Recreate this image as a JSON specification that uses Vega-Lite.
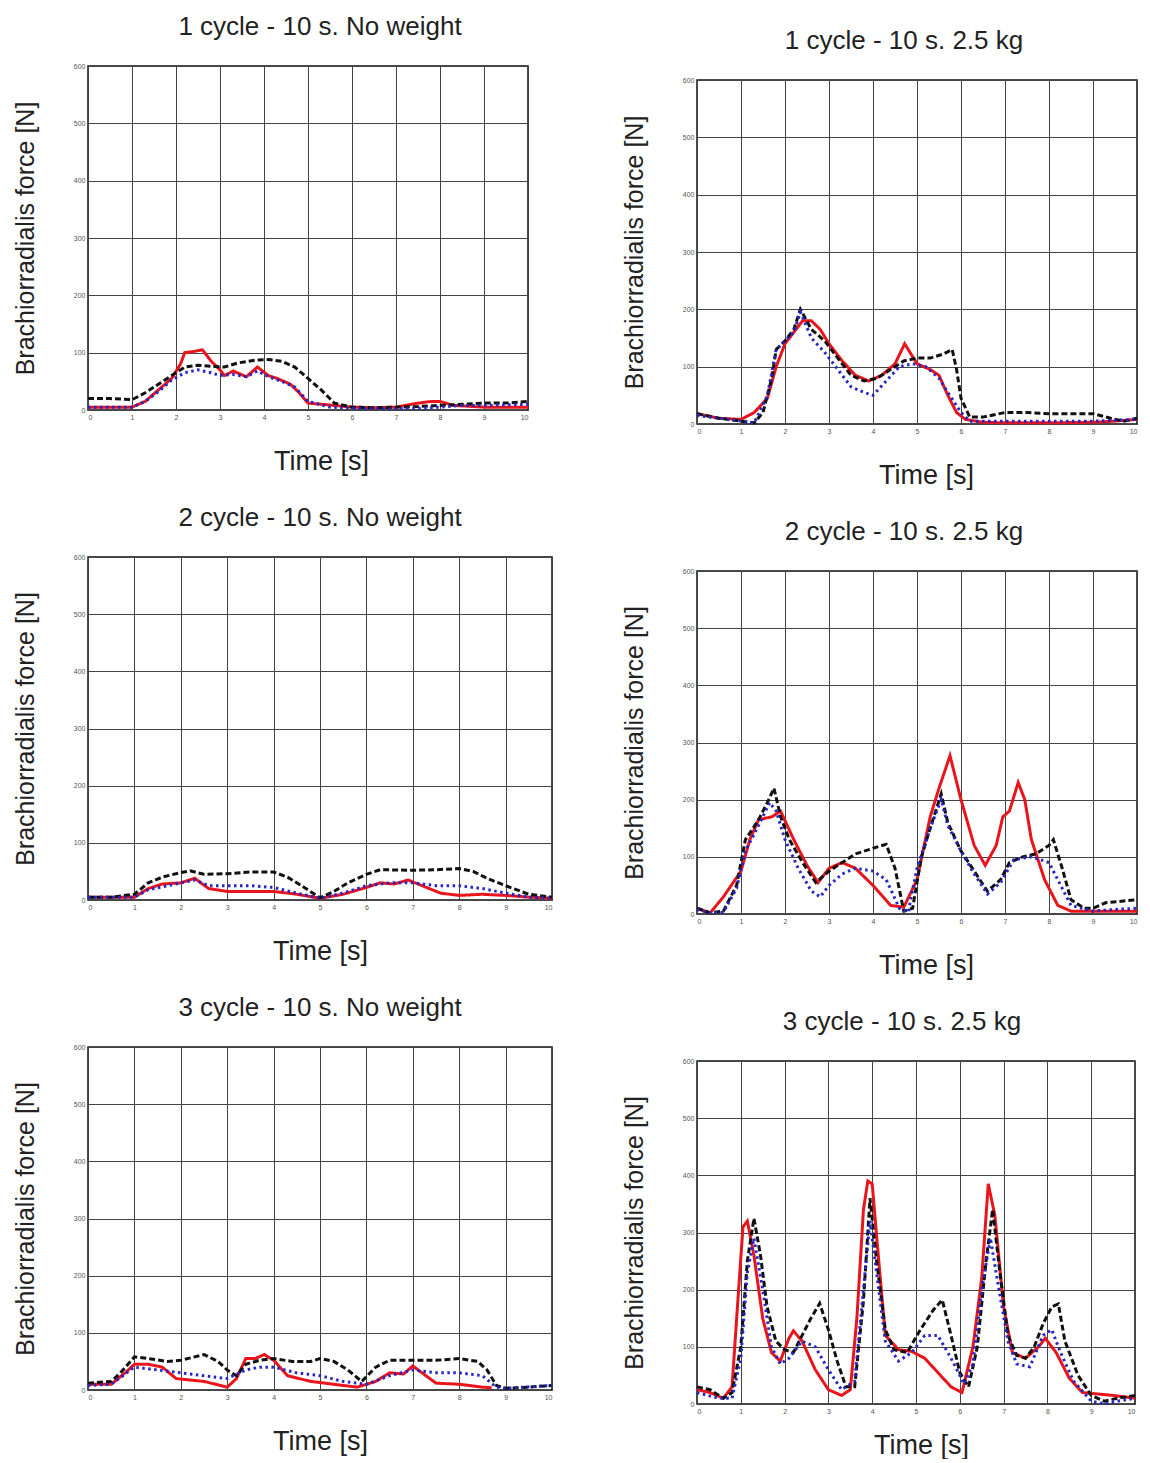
{
"$schema": "https://vega.github.io/schema/vega-lite/v6.json",
"padding": {"left": 12, "top": 13, "right": 5, "bottom": 0},
"background": "white",
"datasets": {
"p1": [
{"s":"Series 1","t":0,"f":5},{"s":"Series 1","t":0.5,"f":5},{"s":"Series 1","t":1,"f":5},{"s":"Series 1","t":1.3,"f":15},{"s":"Series 1","t":1.6,"f":35},{"s":"Series 1","t":1.9,"f":55},{"s":"Series 1","t":2.1,"f":80},{"s":"Series 1","t":2.2,"f":100},{"s":"Series 1","t":2.4,"f":102},{"s":"Series 1","t":2.6,"f":105},{"s":"Series 1","t":2.8,"f":85},{"s":"Series 1","t":3.0,"f":70},{"s":"Series 1","t":3.1,"f":60},{"s":"Series 1","t":3.3,"f":68},{"s":"Series 1","t":3.6,"f":58},{"s":"Series 1","t":3.85,"f":75},{"s":"Series 1","t":4.1,"f":60},{"s":"Series 1","t":4.3,"f":55},{"s":"Series 1","t":4.6,"f":45},{"s":"Series 1","t":4.8,"f":30},{"s":"Series 1","t":5.0,"f":12},{"s":"Series 1","t":5.3,"f":10},{"s":"Series 1","t":5.6,"f":8},{"s":"Series 1","t":6,"f":5},{"s":"Series 1","t":6.5,"f":4},{"s":"Series 1","t":7,"f":5},{"s":"Series 1","t":7.5,"f":12},{"s":"Series 1","t":7.8,"f":15},{"s":"Series 1","t":8.0,"f":15},{"s":"Series 1","t":8.3,"f":8},{"s":"Series 1","t":9,"f":5},{"s":"Series 1","t":10,"f":5},
{"s":"Series 2","t":0,"f":20},{"s":"Series 2","t":0.5,"f":20},{"s":"Series 2","t":1,"f":18},{"s":"Series 2","t":1.3,"f":30},{"s":"Series 2","t":1.6,"f":45},{"s":"Series 2","t":1.9,"f":60},{"s":"Series 2","t":2.2,"f":75},{"s":"Series 2","t":2.5,"f":78},{"s":"Series 2","t":2.8,"f":76},{"s":"Series 2","t":3.1,"f":75},{"s":"Series 2","t":3.4,"f":82},{"s":"Series 2","t":3.8,"f":87},{"s":"Series 2","t":4.1,"f":88},{"s":"Series 2","t":4.4,"f":85},{"s":"Series 2","t":4.7,"f":75},{"s":"Series 2","t":5.0,"f":55},{"s":"Series 2","t":5.3,"f":35},{"s":"Series 2","t":5.6,"f":12},{"s":"Series 2","t":6,"f":5},{"s":"Series 2","t":6.5,"f":4},{"s":"Series 2","t":7,"f":5},{"s":"Series 2","t":7.5,"f":6},{"s":"Series 2","t":8,"f":8},{"s":"Series 2","t":8.5,"f":10},{"s":"Series 2","t":9,"f":12},{"s":"Series 2","t":9.5,"f":12},{"s":"Series 2","t":10,"f":15},
{"s":"Series 3","t":0,"f":5},{"s":"Series 3","t":1,"f":5},{"s":"Series 3","t":1.3,"f":15},{"s":"Series 3","t":1.6,"f":32},{"s":"Series 3","t":1.9,"f":52},{"s":"Series 3","t":2.2,"f":65},{"s":"Series 3","t":2.5,"f":70},{"s":"Series 3","t":2.8,"f":65},{"s":"Series 3","t":3.0,"f":60},{"s":"Series 3","t":3.3,"f":62},{"s":"Series 3","t":3.6,"f":58},{"s":"Series 3","t":3.85,"f":68},{"s":"Series 3","t":4.1,"f":58},{"s":"Series 3","t":4.4,"f":50},{"s":"Series 3","t":4.7,"f":40},{"s":"Series 3","t":5.0,"f":15},{"s":"Series 3","t":5.5,"f":5},{"s":"Series 3","t":6,"f":3},{"s":"Series 3","t":7,"f":2},{"s":"Series 3","t":7.5,"f":3},{"s":"Series 3","t":8,"f":5},{"s":"Series 3","t":8.5,"f":8},{"s":"Series 3","t":9,"f":8},{"s":"Series 3","t":10,"f":10}
],
"p2": [
{"s":"Series 1","t":0,"f":18},{"s":"Series 1","t":0.5,"f":10},{"s":"Series 1","t":1,"f":8},{"s":"Series 1","t":1.3,"f":20},{"s":"Series 1","t":1.6,"f":45},{"s":"Series 1","t":1.8,"f":100},{"s":"Series 1","t":2.0,"f":140},{"s":"Series 1","t":2.2,"f":160},{"s":"Series 1","t":2.4,"f":180},{"s":"Series 1","t":2.6,"f":180},{"s":"Series 1","t":2.8,"f":165},{"s":"Series 1","t":3.0,"f":140},{"s":"Series 1","t":3.3,"f":110},{"s":"Series 1","t":3.6,"f":85},{"s":"Series 1","t":3.9,"f":75},{"s":"Series 1","t":4.2,"f":85},{"s":"Series 1","t":4.5,"f":105},{"s":"Series 1","t":4.72,"f":140},{"s":"Series 1","t":5.0,"f":105},{"s":"Series 1","t":5.3,"f":95},{"s":"Series 1","t":5.5,"f":85},{"s":"Series 1","t":5.7,"f":50},{"s":"Series 1","t":5.9,"f":20},{"s":"Series 1","t":6.1,"f":8},{"s":"Series 1","t":6.5,"f":3},{"s":"Series 1","t":7,"f":2},{"s":"Series 1","t":8,"f":2},{"s":"Series 1","t":9,"f":3},{"s":"Series 1","t":9.5,"f":5},{"s":"Series 1","t":10,"f":8},
{"s":"Series 2","t":0,"f":18},{"s":"Series 2","t":0.5,"f":10},{"s":"Series 2","t":1,"f":5},{"s":"Series 2","t":1.3,"f":2},{"s":"Series 2","t":1.5,"f":20},{"s":"Series 2","t":1.7,"f":80},{"s":"Series 2","t":1.8,"f":130},{"s":"Series 2","t":2.0,"f":145},{"s":"Series 2","t":2.2,"f":165},{"s":"Series 2","t":2.35,"f":200},{"s":"Series 2","t":2.6,"f":165},{"s":"Series 2","t":2.9,"f":145},{"s":"Series 2","t":3.2,"f":115},{"s":"Series 2","t":3.5,"f":85},{"s":"Series 2","t":3.8,"f":75},{"s":"Series 2","t":4.1,"f":80},{"s":"Series 2","t":4.4,"f":95},{"s":"Series 2","t":4.7,"f":110},{"s":"Series 2","t":5.0,"f":115},{"s":"Series 2","t":5.3,"f":115},{"s":"Series 2","t":5.6,"f":122},{"s":"Series 2","t":5.8,"f":130},{"s":"Series 2","t":5.9,"f":95},{"s":"Series 2","t":6.0,"f":45},{"s":"Series 2","t":6.2,"f":12},{"s":"Series 2","t":6.5,"f":12},{"s":"Series 2","t":7,"f":20},{"s":"Series 2","t":7.5,"f":20},{"s":"Series 2","t":8,"f":18},{"s":"Series 2","t":8.5,"f":18},{"s":"Series 2","t":9,"f":18},{"s":"Series 2","t":9.4,"f":10},{"s":"Series 2","t":9.7,"f":5},{"s":"Series 2","t":10,"f":10},
{"s":"Series 3","t":0,"f":15},{"s":"Series 3","t":1,"f":5},{"s":"Series 3","t":1.3,"f":2},{"s":"Series 3","t":1.6,"f":50},{"s":"Series 3","t":1.8,"f":130},{"s":"Series 3","t":2.0,"f":145},{"s":"Series 3","t":2.2,"f":160},{"s":"Series 3","t":2.35,"f":195},{"s":"Series 3","t":2.6,"f":150},{"s":"Series 3","t":2.9,"f":125},{"s":"Series 3","t":3.2,"f":95},{"s":"Series 3","t":3.5,"f":65},{"s":"Series 3","t":3.8,"f":55},{"s":"Series 3","t":4.0,"f":50},{"s":"Series 3","t":4.3,"f":75},{"s":"Series 3","t":4.6,"f":100},{"s":"Series 3","t":4.9,"f":105},{"s":"Series 3","t":5.2,"f":100},{"s":"Series 3","t":5.5,"f":80},{"s":"Series 3","t":5.7,"f":55},{"s":"Series 3","t":6.0,"f":20},{"s":"Series 3","t":6.2,"f":5},{"s":"Series 3","t":7,"f":5},{"s":"Series 3","t":8,"f":5},{"s":"Series 3","t":9,"f":5},{"s":"Series 3","t":10,"f":8}
],
"p3": [
{"s":"Series 1","t":0,"f":5},{"s":"Series 1","t":1,"f":5},{"s":"Series 1","t":1.3,"f":20},{"s":"Series 1","t":1.6,"f":28},{"s":"Series 1","t":2,"f":30},{"s":"Series 1","t":2.3,"f":38},{"s":"Series 1","t":2.6,"f":20},{"s":"Series 1","t":3,"f":15},{"s":"Series 1","t":3.5,"f":15},{"s":"Series 1","t":4,"f":15},{"s":"Series 1","t":4.5,"f":10},{"s":"Series 1","t":5,"f":3},{"s":"Series 1","t":5.5,"f":10},{"s":"Series 1","t":6,"f":22},{"s":"Series 1","t":6.3,"f":30},{"s":"Series 1","t":6.6,"f":28},{"s":"Series 1","t":6.9,"f":35},{"s":"Series 1","t":7.2,"f":25},{"s":"Series 1","t":7.6,"f":12},{"s":"Series 1","t":8,"f":8},{"s":"Series 1","t":8.5,"f":10},{"s":"Series 1","t":9,"f":8},{"s":"Series 1","t":9.5,"f":5},{"s":"Series 1","t":10,"f":3},
{"s":"Series 2","t":0,"f":5},{"s":"Series 2","t":0.5,"f":5},{"s":"Series 2","t":1,"f":10},{"s":"Series 2","t":1.3,"f":30},{"s":"Series 2","t":1.6,"f":40},{"s":"Series 2","t":2,"f":48},{"s":"Series 2","t":2.2,"f":51},{"s":"Series 2","t":2.5,"f":45},{"s":"Series 2","t":3,"f":46},{"s":"Series 2","t":3.5,"f":49},{"s":"Series 2","t":4,"f":49},{"s":"Series 2","t":4.3,"f":40},{"s":"Series 2","t":4.6,"f":25},{"s":"Series 2","t":5,"f":4},{"s":"Series 2","t":5.3,"f":15},{"s":"Series 2","t":5.6,"f":30},{"s":"Series 2","t":6,"f":45},{"s":"Series 2","t":6.3,"f":53},{"s":"Series 2","t":7,"f":52},{"s":"Series 2","t":7.5,"f":53},{"s":"Series 2","t":8,"f":55},{"s":"Series 2","t":8.3,"f":50},{"s":"Series 2","t":8.6,"f":38},{"s":"Series 2","t":9,"f":25},{"s":"Series 2","t":9.5,"f":10},{"s":"Series 2","t":10,"f":5},
{"s":"Series 3","t":0,"f":5},{"s":"Series 3","t":1,"f":5},{"s":"Series 3","t":1.3,"f":18},{"s":"Series 3","t":2,"f":30},{"s":"Series 3","t":2.3,"f":35},{"s":"Series 3","t":2.6,"f":25},{"s":"Series 3","t":3,"f":25},{"s":"Series 3","t":3.5,"f":25},{"s":"Series 3","t":4,"f":22},{"s":"Series 3","t":4.5,"f":12},{"s":"Series 3","t":5,"f":3},{"s":"Series 3","t":5.5,"f":12},{"s":"Series 3","t":6,"f":25},{"s":"Series 3","t":6.5,"f":30},{"s":"Series 3","t":7,"f":30},{"s":"Series 3","t":7.5,"f":25},{"s":"Series 3","t":8,"f":25},{"s":"Series 3","t":8.5,"f":20},{"s":"Series 3","t":9,"f":12},{"s":"Series 3","t":9.5,"f":5},{"s":"Series 3","t":10,"f":3}
],
"p4": [
{"s":"Series 1","t":0,"f":10},{"s":"Series 1","t":0.3,"f":2},{"s":"Series 1","t":0.6,"f":30},{"s":"Series 1","t":1,"f":75},{"s":"Series 1","t":1.2,"f":130},{"s":"Series 1","t":1.4,"f":165},{"s":"Series 1","t":1.7,"f":170},{"s":"Series 1","t":1.9,"f":180},{"s":"Series 1","t":2.2,"f":130},{"s":"Series 1","t":2.5,"f":85},{"s":"Series 1","t":2.75,"f":55},{"s":"Series 1","t":3,"f":80},{"s":"Series 1","t":3.3,"f":90},{"s":"Series 1","t":3.6,"f":80},{"s":"Series 1","t":4,"f":50},{"s":"Series 1","t":4.4,"f":15},{"s":"Series 1","t":4.7,"f":12},{"s":"Series 1","t":5,"f":60},{"s":"Series 1","t":5.3,"f":170},{"s":"Series 1","t":5.5,"f":220},{"s":"Series 1","t":5.75,"f":277},{"s":"Series 1","t":6.0,"f":200},{"s":"Series 1","t":6.3,"f":120},{"s":"Series 1","t":6.55,"f":85},{"s":"Series 1","t":6.8,"f":120},{"s":"Series 1","t":6.95,"f":170},{"s":"Series 1","t":7.1,"f":180},{"s":"Series 1","t":7.3,"f":230},{"s":"Series 1","t":7.45,"f":200},{"s":"Series 1","t":7.6,"f":130},{"s":"Series 1","t":7.9,"f":60},{"s":"Series 1","t":8.2,"f":15},{"s":"Series 1","t":8.5,"f":5},{"s":"Series 1","t":9,"f":5},{"s":"Series 1","t":10,"f":5},
{"s":"Series 2","t":0,"f":10},{"s":"Series 2","t":0.3,"f":2},{"s":"Series 2","t":0.6,"f":5},{"s":"Series 2","t":0.9,"f":50},{"s":"Series 2","t":1.1,"f":130},{"s":"Series 2","t":1.4,"f":165},{"s":"Series 2","t":1.6,"f":195},{"s":"Series 2","t":1.75,"f":220},{"s":"Series 2","t":1.9,"f":170},{"s":"Series 2","t":2.1,"f":130},{"s":"Series 2","t":2.4,"f":90},{"s":"Series 2","t":2.7,"f":55},{"s":"Series 2","t":3.0,"f":75},{"s":"Series 2","t":3.3,"f":90},{"s":"Series 2","t":3.6,"f":105},{"s":"Series 2","t":4.0,"f":115},{"s":"Series 2","t":4.3,"f":122},{"s":"Series 2","t":4.5,"f":80},{"s":"Series 2","t":4.7,"f":5},{"s":"Series 2","t":4.9,"f":10},{"s":"Series 2","t":5.1,"f":100},{"s":"Series 2","t":5.3,"f":150},{"s":"Series 2","t":5.55,"f":210},{"s":"Series 2","t":5.7,"f":160},{"s":"Series 2","t":6.0,"f":110},{"s":"Series 2","t":6.3,"f":75},{"s":"Series 2","t":6.6,"f":40},{"s":"Series 2","t":6.9,"f":60},{"s":"Series 2","t":7.1,"f":90},{"s":"Series 2","t":7.4,"f":100},{"s":"Series 2","t":7.7,"f":105},{"s":"Series 2","t":8.0,"f":120},{"s":"Series 2","t":8.1,"f":130},{"s":"Series 2","t":8.3,"f":80},{"s":"Series 2","t":8.5,"f":25},{"s":"Series 2","t":8.8,"f":10},{"s":"Series 2","t":9,"f":10},{"s":"Series 2","t":9.3,"f":20},{"s":"Series 2","t":9.6,"f":22},{"s":"Series 2","t":10,"f":25},
{"s":"Series 3","t":0,"f":8},{"s":"Series 3","t":0.3,"f":2},{"s":"Series 3","t":0.6,"f":3},{"s":"Series 3","t":0.9,"f":45},{"s":"Series 3","t":1.1,"f":110},{"s":"Series 3","t":1.4,"f":155},{"s":"Series 3","t":1.65,"f":195},{"s":"Series 3","t":1.8,"f":180},{"s":"Series 3","t":2.0,"f":130},{"s":"Series 3","t":2.3,"f":80},{"s":"Series 3","t":2.6,"f":40},{"s":"Series 3","t":2.8,"f":30},{"s":"Series 3","t":3.0,"f":50},{"s":"Series 3","t":3.3,"f":70},{"s":"Series 3","t":3.6,"f":80},{"s":"Series 3","t":4.0,"f":75},{"s":"Series 3","t":4.3,"f":60},{"s":"Series 3","t":4.6,"f":10},{"s":"Series 3","t":4.8,"f":3},{"s":"Series 3","t":5.0,"f":80},{"s":"Series 3","t":5.3,"f":150},{"s":"Series 3","t":5.55,"f":200},{"s":"Series 3","t":5.7,"f":155},{"s":"Series 3","t":6.0,"f":110},{"s":"Series 3","t":6.3,"f":70},{"s":"Series 3","t":6.6,"f":35},{"s":"Series 3","t":6.9,"f":55},{"s":"Series 3","t":7.2,"f":95},{"s":"Series 3","t":7.6,"f":100},{"s":"Series 3","t":8.0,"f":90},{"s":"Series 3","t":8.2,"f":60},{"s":"Series 3","t":8.5,"f":15},{"s":"Series 3","t":9,"f":5},{"s":"Series 3","t":9.5,"f":8},{"s":"Series 3","t":10,"f":10}
],
"p5": [
{"s":"Series 1","t":0,"f":10},{"s":"Series 1","t":0.5,"f":10},{"s":"Series 1","t":0.8,"f":30},{"s":"Series 1","t":1,"f":45},{"s":"Series 1","t":1.3,"f":45},{"s":"Series 1","t":1.6,"f":40},{"s":"Series 1","t":1.9,"f":20},{"s":"Series 1","t":2.5,"f":15},{"s":"Series 1","t":3.0,"f":5},{"s":"Series 1","t":3.2,"f":20},{"s":"Series 1","t":3.4,"f":55},{"s":"Series 1","t":3.6,"f":55},{"s":"Series 1","t":3.8,"f":62},{"s":"Series 1","t":4.0,"f":52},{"s":"Series 1","t":4.3,"f":25},{"s":"Series 1","t":4.8,"f":15},{"s":"Series 1","t":5.3,"f":10},{"s":"Series 1","t":5.8,"f":5},{"s":"Series 1","t":6.2,"f":15},{"s":"Series 1","t":6.5,"f":30},{"s":"Series 1","t":6.8,"f":28},{"s":"Series 1","t":7.0,"f":42},{"s":"Series 1","t":7.2,"f":30},{"s":"Series 1","t":7.5,"f":12},{"s":"Series 1","t":8,"f":10},{"s":"Series 1","t":8.5,"f":5},{"s":"Series 1","t":8.7,"f":4},
{"s":"Series 2","t":0,"f":12},{"s":"Series 2","t":0.5,"f":15},{"s":"Series 2","t":0.7,"f":30},{"s":"Series 2","t":1,"f":58},{"s":"Series 2","t":1.3,"f":55},{"s":"Series 2","t":1.7,"f":50},{"s":"Series 2","t":2,"f":52},{"s":"Series 2","t":2.5,"f":62},{"s":"Series 2","t":2.8,"f":50},{"s":"Series 2","t":3.0,"f":35},{"s":"Series 2","t":3.2,"f":25},{"s":"Series 2","t":3.4,"f":45},{"s":"Series 2","t":3.7,"f":52},{"s":"Series 2","t":4.0,"f":55},{"s":"Series 2","t":4.4,"f":50},{"s":"Series 2","t":4.8,"f":50},{"s":"Series 2","t":5.0,"f":55},{"s":"Series 2","t":5.3,"f":50},{"s":"Series 2","t":5.6,"f":35},{"s":"Series 2","t":5.9,"f":15},{"s":"Series 2","t":6.2,"f":40},{"s":"Series 2","t":6.5,"f":52},{"s":"Series 2","t":7,"f":52},{"s":"Series 2","t":7.5,"f":52},{"s":"Series 2","t":8,"f":55},{"s":"Series 2","t":8.4,"f":50},{"s":"Series 2","t":8.6,"f":35},{"s":"Series 2","t":8.8,"f":8},{"s":"Series 2","t":9,"f":3},{"s":"Series 2","t":9.5,"f":5},{"s":"Series 2","t":10,"f":8},
{"s":"Series 3","t":0,"f":8},{"s":"Series 3","t":0.5,"f":10},{"s":"Series 3","t":1,"f":40},{"s":"Series 3","t":1.5,"f":35},{"s":"Series 3","t":2,"f":30},{"s":"Series 3","t":2.5,"f":25},{"s":"Series 3","t":3,"f":20},{"s":"Series 3","t":3.4,"f":35},{"s":"Series 3","t":3.7,"f":40},{"s":"Series 3","t":4.0,"f":40},{"s":"Series 3","t":4.5,"f":30},{"s":"Series 3","t":5,"f":25},{"s":"Series 3","t":5.5,"f":15},{"s":"Series 3","t":6,"f":10},{"s":"Series 3","t":6.5,"f":25},{"s":"Series 3","t":7,"f":35},{"s":"Series 3","t":7.5,"f":30},{"s":"Series 3","t":8,"f":30},{"s":"Series 3","t":8.5,"f":25},{"s":"Series 3","t":8.8,"f":5},{"s":"Series 3","t":9,"f":3},{"s":"Series 3","t":10,"f":8}
],
"p6": [
{"s":"Series 1","t":0,"f":25},{"s":"Series 1","t":0.3,"f":20},{"s":"Series 1","t":0.6,"f":10},{"s":"Series 1","t":0.8,"f":30},{"s":"Series 1","t":0.95,"f":200},{"s":"Series 1","t":1.05,"f":310},{"s":"Series 1","t":1.15,"f":320},{"s":"Series 1","t":1.3,"f":260},{"s":"Series 1","t":1.5,"f":150},{"s":"Series 1","t":1.7,"f":90},{"s":"Series 1","t":1.9,"f":75},{"s":"Series 1","t":2.1,"f":115},{"s":"Series 1","t":2.2,"f":128},{"s":"Series 1","t":2.4,"f":110},{"s":"Series 1","t":2.7,"f":60},{"s":"Series 1","t":3.0,"f":25},{"s":"Series 1","t":3.3,"f":15},{"s":"Series 1","t":3.5,"f":25},{"s":"Series 1","t":3.65,"f":150},{"s":"Series 1","t":3.8,"f":340},{"s":"Series 1","t":3.9,"f":390},{"s":"Series 1","t":4.0,"f":385},{"s":"Series 1","t":4.15,"f":250},{"s":"Series 1","t":4.3,"f":120},{"s":"Series 1","t":4.6,"f":95},{"s":"Series 1","t":4.9,"f":92},{"s":"Series 1","t":5.2,"f":80},{"s":"Series 1","t":5.5,"f":55},{"s":"Series 1","t":5.8,"f":30},{"s":"Series 1","t":6.05,"f":20},{"s":"Series 1","t":6.3,"f":100},{"s":"Series 1","t":6.5,"f":220},{"s":"Series 1","t":6.65,"f":385},{"s":"Series 1","t":6.8,"f":330},{"s":"Series 1","t":7.0,"f":170},{"s":"Series 1","t":7.2,"f":90},{"s":"Series 1","t":7.5,"f":80},{"s":"Series 1","t":7.8,"f":100},{"s":"Series 1","t":7.95,"f":115},{"s":"Series 1","t":8.2,"f":90},{"s":"Series 1","t":8.5,"f":45},{"s":"Series 1","t":8.8,"f":20},{"s":"Series 1","t":9.5,"f":15},{"s":"Series 1","t":10,"f":10},
{"s":"Series 2","t":0,"f":30},{"s":"Series 2","t":0.3,"f":25},{"s":"Series 2","t":0.6,"f":10},{"s":"Series 2","t":0.8,"f":20},{"s":"Series 2","t":1.0,"f":100},{"s":"Series 2","t":1.15,"f":250},{"s":"Series 2","t":1.3,"f":325},{"s":"Series 2","t":1.45,"f":260},{"s":"Series 2","t":1.6,"f":170},{"s":"Series 2","t":1.8,"f":110},{"s":"Series 2","t":2.0,"f":95},{"s":"Series 2","t":2.2,"f":90},{"s":"Series 2","t":2.4,"f":120},{"s":"Series 2","t":2.6,"f":150},{"s":"Series 2","t":2.8,"f":176},{"s":"Series 2","t":3.0,"f":130},{"s":"Series 2","t":3.2,"f":75},{"s":"Series 2","t":3.4,"f":30},{"s":"Series 2","t":3.6,"f":30},{"s":"Series 2","t":3.8,"f":180},{"s":"Series 2","t":3.95,"f":360},{"s":"Series 2","t":4.1,"f":250},{"s":"Series 2","t":4.3,"f":130},{"s":"Series 2","t":4.5,"f":95},{"s":"Series 2","t":4.8,"f":90},{"s":"Series 2","t":5.1,"f":130},{"s":"Series 2","t":5.4,"f":165},{"s":"Series 2","t":5.6,"f":182},{"s":"Series 2","t":5.8,"f":120},{"s":"Series 2","t":6.0,"f":55},{"s":"Series 2","t":6.2,"f":30},{"s":"Series 2","t":6.4,"f":100},{"s":"Series 2","t":6.6,"f":250},{"s":"Series 2","t":6.75,"f":340},{"s":"Series 2","t":6.9,"f":240},{"s":"Series 2","t":7.1,"f":120},{"s":"Series 2","t":7.3,"f":85},{"s":"Series 2","t":7.5,"f":80},{"s":"Series 2","t":7.7,"f":100},{"s":"Series 2","t":7.9,"f":140},{"s":"Series 2","t":8.1,"f":170},{"s":"Series 2","t":8.25,"f":175},{"s":"Series 2","t":8.4,"f":110},{"s":"Series 2","t":8.7,"f":50},{"s":"Series 2","t":9.0,"f":15},{"s":"Series 2","t":9.3,"f":5},{"s":"Series 2","t":9.6,"f":10},{"s":"Series 2","t":10,"f":15},
{"s":"Series 3","t":0,"f":20},{"s":"Series 3","t":0.5,"f":10},{"s":"Series 3","t":0.8,"f":10},{"s":"Series 3","t":1.0,"f":80},{"s":"Series 3","t":1.15,"f":230},{"s":"Series 3","t":1.3,"f":290},{"s":"Series 3","t":1.5,"f":200},{"s":"Series 3","t":1.7,"f":100},{"s":"Series 3","t":1.9,"f":70},{"s":"Series 3","t":2.1,"f":80},{"s":"Series 3","t":2.4,"f":110},{"s":"Series 3","t":2.7,"f":100},{"s":"Series 3","t":3.0,"f":60},{"s":"Series 3","t":3.3,"f":25},{"s":"Series 3","t":3.6,"f":40},{"s":"Series 3","t":3.8,"f":200},{"s":"Series 3","t":3.95,"f":320},{"s":"Series 3","t":4.1,"f":230},{"s":"Series 3","t":4.3,"f":110},{"s":"Series 3","t":4.6,"f":75},{"s":"Series 3","t":4.9,"f":90},{"s":"Series 3","t":5.2,"f":120},{"s":"Series 3","t":5.5,"f":120},{"s":"Series 3","t":5.8,"f":80},{"s":"Series 3","t":6.1,"f":35},{"s":"Series 3","t":6.3,"f":70},{"s":"Series 3","t":6.5,"f":200},{"s":"Series 3","t":6.7,"f":290},{"s":"Series 3","t":6.85,"f":220},{"s":"Series 3","t":7.1,"f":110},{"s":"Series 3","t":7.3,"f":70},{"s":"Series 3","t":7.6,"f":65},{"s":"Series 3","t":7.9,"f":120},{"s":"Series 3","t":8.1,"f":130},{"s":"Series 3","t":8.3,"f":90},{"s":"Series 3","t":8.6,"f":40},{"s":"Series 3","t":9.0,"f":5},{"s":"Series 3","t":9.3,"f":0},{"s":"Series 3","t":9.6,"f":5},{"s":"Series 3","t":10,"f":10}
],
"empty": []
},
"config": {
"font": "Liberation Sans",
"view": {"stroke": "#111", "strokeWidth": 1.5},
"axis": {"grid": true, "gridColor": "#444", "gridOpacity": 1, "gridWidth": 1, "ticks": false, "domain": false, "labelFontSize": 7, "labelColor": "#555", "labelPadding": 3, "titleFontWeight": "normal", "titleColor": "#222", "labelFont": "Liberation Sans", "titleFont": "Liberation Sans"},
"axisY": {"titlePadding": 35, "titleFontSize": 25},
"axisX": {"titlePadding": 28, "titleFontSize": 27},
"title": {"fontSize": 26, "fontWeight": "normal", "font": "Liberation Sans", "color": "#222", "offset": 22},
"line": {"strokeWidth": 3}
},
"hconcat": [
{"vconcat": [
{"title": {"text": "1 cycle - 10 s. No weight", "dx": 12}, "width": 440, "height": 344, "data": {"name": "p1"}, "mark": {"type": "line"},
 "encoding": {"x": {"field": "t", "type": "quantitative", "title": "Time [s]", "scale": {"domain": [0, 10], "nice": false}, "axis": {"values": [0,1,2,3,4,5,6,7,8,9,10], "titleX": 233}},
 "y": {"field": "f", "type": "quantitative", "title": "Brachiorradialis force [N]", "scale": {"domain": [0, 600], "nice": false}, "axis": {"values": [0,100,200,300,400,500,600]}},
 "color": {"field": "s", "type": "nominal", "scale": {"domain": ["Series 1","Series 2","Series 3"], "range": ["#e8151c","#111111","#2626c8"]}, "legend": null},
 "strokeDash": {"field": "s", "type": "nominal", "scale": {"domain": ["Series 1","Series 2","Series 3"], "range": [[1,0],[6,3],[2.5,3.5]]}, "legend": null}}},
{"title": "2 cycle - 10 s. No weight", "width": 464, "height": 343, "data": {"name": "p3"}, "mark": {"type": "line"},
 "encoding": {"x": {"field": "t", "type": "quantitative", "title": "Time [s]", "scale": {"domain": [0, 10], "nice": false}, "axis": {"values": [0,1,2,3,4,5,6,7,8,9,10]}},
 "y": {"field": "f", "type": "quantitative", "title": "Brachiorradialis force [N]", "scale": {"domain": [0, 600], "nice": false}, "axis": {"values": [0,100,200,300,400,500,600]}},
 "color": {"field": "s", "type": "nominal", "scale": {"domain": ["Series 1","Series 2","Series 3"], "range": ["#e8151c","#111111","#2626c8"]}, "legend": null},
 "strokeDash": {"field": "s", "type": "nominal", "scale": {"domain": ["Series 1","Series 2","Series 3"], "range": [[1,0],[6,3],[2.5,3.5]]}, "legend": null}}},
{"title": "3 cycle - 10 s. No weight", "width": 464, "height": 343, "data": {"name": "p5"}, "mark": {"type": "line"},
 "encoding": {"x": {"field": "t", "type": "quantitative", "title": "Time [s]", "scale": {"domain": [0, 10], "nice": false}, "axis": {"values": [0,1,2,3,4,5,6,7,8,9,10]}},
 "y": {"field": "f", "type": "quantitative", "title": "Brachiorradialis force [N]", "scale": {"domain": [0, 600], "nice": false}, "axis": {"values": [0,100,200,300,400,500,600]}},
 "color": {"field": "s", "type": "nominal", "scale": {"domain": ["Series 1","Series 2","Series 3"], "range": ["#e8151c","#111111","#2626c8"]}, "legend": null},
 "strokeDash": {"field": "s", "type": "nominal", "scale": {"domain": ["Series 1","Series 2","Series 3"], "range": [[1,0],[6,3],[2.5,3.5]]}, "legend": null}}}
], "spacing": 29},
{"vconcat": [
{"title": {"text": "1 cycle - 10 s. 2.5 kg", "dx": -13, "offset": 12}, "width": 440, "height": 9, "data": {"name": "empty"}, "mark": {"type": "point"}, "view": {"stroke": null}},
{"vconcat": [
{"width": 440, "height": 344, "data": {"name": "p2"}, "mark": {"type": "line"},
 "encoding": {"x": {"field": "t", "type": "quantitative", "title": "Time [s]", "scale": {"domain": [0, 10], "nice": false}, "axis": {"values": [0,1,2,3,4,5,6,7,8,9,10], "titleX": 229}},
 "y": {"field": "f", "type": "quantitative", "title": "Brachiorradialis force [N]", "scale": {"domain": [0, 600], "nice": false}, "axis": {"values": [0,100,200,300,400,500,600]}},
 "color": {"field": "s", "type": "nominal", "scale": {"domain": ["Series 1","Series 2","Series 3"], "range": ["#e8151c","#111111","#2626c8"]}, "legend": null},
 "strokeDash": {"field": "s", "type": "nominal", "scale": {"domain": ["Series 1","Series 2","Series 3"], "range": [[1,0],[6,3],[2.5,3.5]]}, "legend": null}}},
{"title": {"text": "2 cycle - 10 s. 2.5 kg", "dx": -13}, "width": 440, "height": 343, "data": {"name": "p4"}, "mark": {"type": "line"},
 "encoding": {"x": {"field": "t", "type": "quantitative", "title": "Time [s]", "scale": {"domain": [0, 10], "nice": false}, "axis": {"values": [0,1,2,3,4,5,6,7,8,9,10], "titleX": 229}},
 "y": {"field": "f", "type": "quantitative", "title": "Brachiorradialis force [N]", "scale": {"domain": [0, 600], "nice": false}, "axis": {"values": [0,100,200,300,400,500,600]}},
 "color": {"field": "s", "type": "nominal", "scale": {"domain": ["Series 1","Series 2","Series 3"], "range": ["#e8151c","#111111","#2626c8"]}, "legend": null},
 "strokeDash": {"field": "s", "type": "nominal", "scale": {"domain": ["Series 1","Series 2","Series 3"], "range": [[1,0],[6,3],[2.5,3.5]]}, "legend": null}}},
{"title": {"text": "3 cycle - 10 s. 2.5 kg", "dx": -14}, "width": 438, "height": 343, "data": {"name": "p6"}, "mark": {"type": "line"},
 "encoding": {"x": {"field": "t", "type": "quantitative", "title": "Time [s]", "scale": {"domain": [0, 10], "nice": false}, "axis": {"values": [0,1,2,3,4,5,6,7,8,9,10], "titlePadding": 18, "titleX": 224}},
 "y": {"field": "f", "type": "quantitative", "title": "Brachiorradialis force [N]", "scale": {"domain": [0, 600], "nice": false}, "axis": {"values": [0,100,200,300,400,500,600]}},
 "color": {"field": "s", "type": "nominal", "scale": {"domain": ["Series 1","Series 2","Series 3"], "range": ["#e8151c","#111111","#2626c8"]}, "legend": null},
 "strokeDash": {"field": "s", "type": "nominal", "scale": {"domain": ["Series 1","Series 2","Series 3"], "range": [[1,0],[6,3],[2.5,3.5]]}, "legend": null}}}
], "spacing": 29}
], "spacing": 0}
],
"spacing": 62
}
